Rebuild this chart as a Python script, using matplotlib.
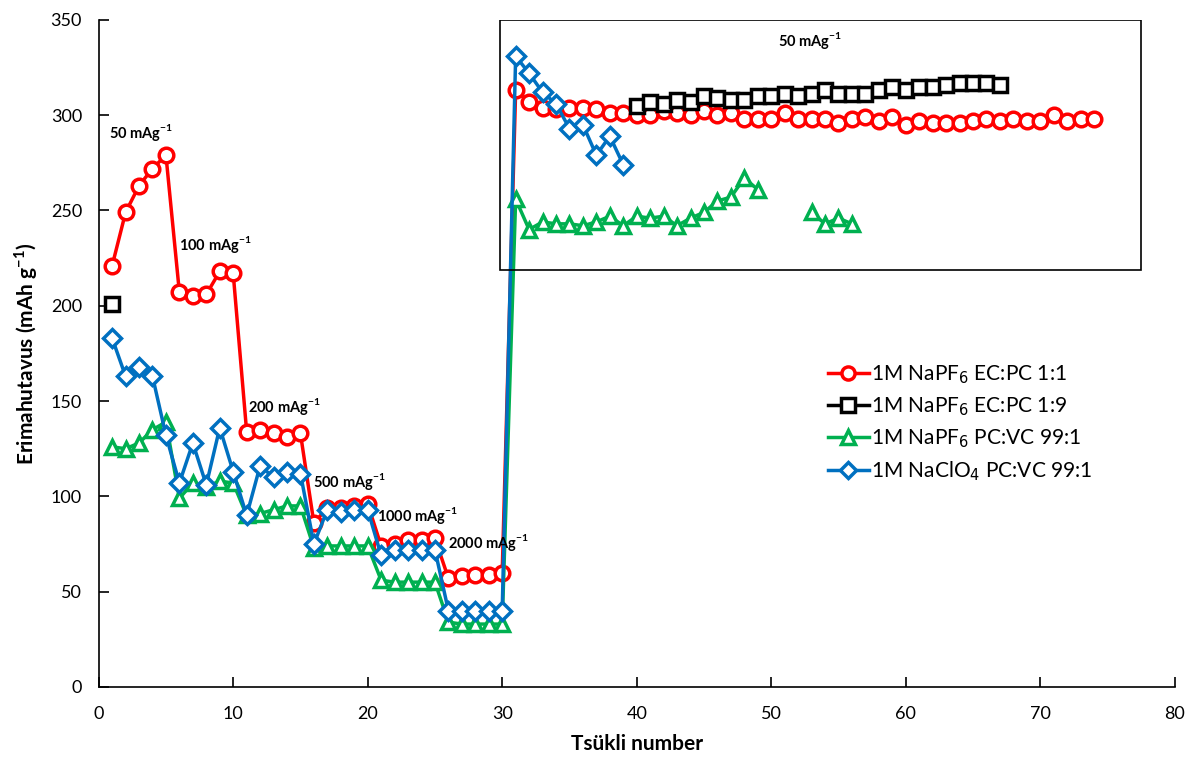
import numpy as np
import matplotlib.pyplot as plt
from matplotlib.patches import Rectangle

plt.rcParams['font.family'] = ['Lato', 'DejaVu Sans']

# 1M NaPF6 EC:PC 1:1
red_x = list(range(1, 75))
red_y = [221, 249, 263, 272, 279, 207, 205, 206, 218, 217,
         134, 135, 133, 131, 133, 86, 94, 94, 95, 96,
         74, 75, 77, 77, 78, 57, 58, 59, 59, 60,
         313, 307, 304, 303, 304, 304, 303, 301, 301, 300,
         300, 302, 301, 300, 302, 300, 301, 298, 298, 298,
         301, 298, 298, 298, 296, 298, 299, 297, 299, 295,
         297, 296, 296, 296, 297, 298, 297, 298, 297, 297,
         300, 297, 298, 298]

# 1M NaPF6 EC:PC 1:9 (gap between cycle 1 and 40)
black_x = [1] + list(range(40, 68))
black_y = [201, 305, 307, 306, 308, 307, 310, 309, 308, 308, 310,
           310, 311, 310, 311, 313, 311, 311, 311, 313, 315,
           313, 315, 315, 316, 317, 317, 317, 316]

# 1M NaPF6 PC:VC 99:1 (gap 50-52)
green_x = list(range(1, 50)) + list(range(53, 57))
green_y = [126, 125, 128, 135, 139, 99, 107, 105, 108, 107,
           90, 91, 93, 95, 95, 73, 74, 74, 74, 74,
           56, 55, 55, 55, 55, 34, 33, 33, 33, 33,
           256, 240, 244, 243, 243, 242, 244, 247, 242, 247,
           246, 247, 242, 246, 249, 255, 257, 267, 261,
           249, 243, 246, 243]

# 1M NaClO4 PC:VC 99:1
blue_x = list(range(1, 40))
blue_y = [183, 163, 168, 163, 132, 107, 128, 106, 136, 113,
          90, 116, 110, 113, 112, 75, 93, 92, 93, 93,
          69, 72, 72, 72, 72, 40, 40, 40, 40, 40,
          331, 322, 312, 306, 293, 295, 279, 289, 274]

labels = ['1M NaPF$_6$ EC:PC 1:1', '1M NaPF$_6$ EC:PC 1:9',
          '1M NaPF$_6$ PC:VC 99:1', '1M NaClO$_4$ PC:VC 99:1']

rates = ['50', '100', '200', '500', '1000', '2000', '50']
rate_pos = [(0.8, 291), (6.0, 232), (11.1, 147), (15.9, 108),
            (20.7, 90), (26.0, 76), (50.5, 339)]


def with_gaps(x, y):
    xs, ys = [x[0]], [y[0]]
    for i in range(1, len(x)):
        if x[i] - x[i - 1] > 1:
            xs.append(np.nan)
            ys.append(np.nan)
        xs.append(x[i])
        ys.append(y[i])
    return xs, ys


fig = plt.figure(figsize=(11.89, 7.65), dpi=100)
ax = fig.add_axes([0.083, 0.102, 0.905, 0.872])

series = [
    (red_x, red_y, '#ff0000', 'o', 10.5),
    (black_x, black_y, '#000000', 's', 10.5),
    (green_x, green_y, '#00b050', '^', 10.5),
    (blue_x, blue_y, '#0070c0', 'D', 9.5),
]
handles = []
for k, (x, y, c, m, ms) in enumerate(series):
    xs, ys = with_gaps(x, y)
    h, = ax.plot(xs, ys, color=c, lw=2.5, marker=m, ms=ms,
                 mfc='white', mec=c, mew=2.5, label=labels[k],
                 zorder=2 + k)
    handles.append(h)

ax.add_patch(Rectangle((29.8, 219), 47.7, 131, fill=False,
                       ec='black', lw=1.2, zorder=10))

for r, (tx, ty) in zip(rates, rate_pos):
    ax.text(tx, ty, r + ' mAg$^{\\mathregular{-1}}$', fontsize=10.5,
            fontweight='bold', ha='left', va='center', zorder=11)

ax.set_xlim(0, 80)
ax.set_ylim(0, 350)
ax.set_xticks(np.arange(0, 81, 10))
ax.set_yticks(np.arange(0, 351, 50))
ax.tick_params(direction='in', length=7, width=1.2, labelsize=13, pad=14)
ax.tick_params(axis='y', pad=12)
for s in ['top', 'right']:
    ax.spines[s].set_visible(False)
for s in ['left', 'bottom']:
    ax.spines[s].set_linewidth(1.2)

ax.set_xlabel('Tsükli number', fontsize=15, fontweight='bold', labelpad=8)
ax.set_ylabel('Erimahutavus (mAh g$^{\\mathregular{-1}}$)', fontsize=15,
              fontweight='bold', labelpad=8)

ax.legend(handles=handles, loc='center left',
          bbox_to_anchor=(0.66, 0.395), frameon=False, fontsize=15,
          handlelength=2.0, handletextpad=0.1, labelspacing=0.45,
          markerscale=0.9)

plt.savefig('out.png', dpi=100)
